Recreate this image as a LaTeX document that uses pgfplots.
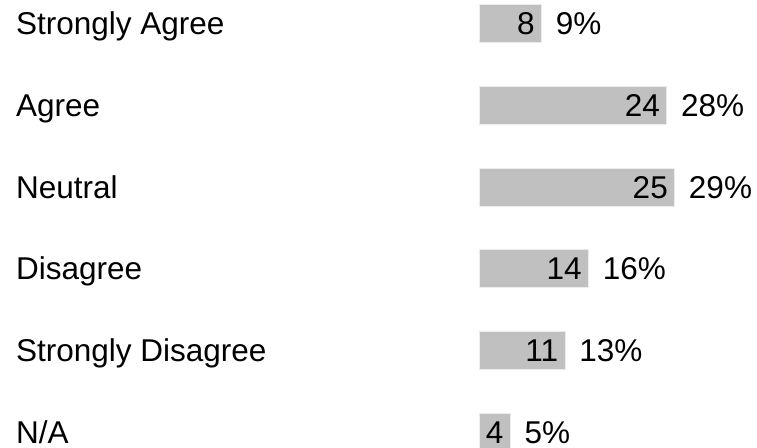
\documentclass[border=0pt]{standalone}
\usepackage{fontspec}
\setmainfont{Liberation Sans}
\usepackage{pgfplots}
\usepackage{pgfplotstable}
\pgfplotsset{compat=1.18}
\definecolor{barfill}{RGB}{192,192,192}
\definecolor{baredge}{RGB}{236,236,236}

\pgfplotstableread{
row count pct
0 8 9
1 24 28
2 25 29
3 14 16
4 11 13
5 4 5
}\data

\newcommand{\bigfont}{\fontsize{31.5bp}{36bp}\selectfont}

\begin{document}
\begin{tikzpicture}
\begin{axis}[
  scale only axis,
  width=757bp, height=448bp,
  xmin=-61.17, xmax=35.50,
  y dir=reverse,
  ymin=-0.294, ymax=5.196,
  xbar, bar width=38bp, bar shift=0pt,
  ytick={0,1,2,3,4,5},
  yticklabels={Strongly Agree, Agree, Neutral, Disagree, Strongly Disagree, N/A},
  yticklabel style={anchor=base west, inner sep=0pt, xshift=16bp, yshift=-11bp, font=\bigfont},
  xtick=\empty,
  major tick length=0pt,
  axis line style={draw=none},
  clip=false,
  /pgf/number format/assume math mode=true,
]
\addplot[fill=barfill, draw=baredge, line width=1bp,
  nodes near coords={\pgfmathprintnumber{\pgfplotspointmeta}},
  point meta=x,
  every node near coord/.append style={anchor=base east, inner sep=0pt, xshift=-6.5bp, yshift=-11bp, font=\bigfont, text=black},
] table[x=count, y=row] {\data};
\addplot[draw=none, fill=none, forget plot,
  nodes near coords={\pgfmathprintnumber{\pgfplotspointmeta}\%},
  point meta=explicit,
  every node near coord/.append style={anchor=base west, inner sep=0pt, xshift=14bp, yshift=-11bp, font=\bigfont, text=black},
] table[x=count, y=row, meta=pct] {\data};
\coordinate (bl) at (rel axis cs:0,0);
\coordinate (tr) at (rel axis cs:1,1);
\end{axis}
\pgfresetboundingbox
\path[use as bounding box] (bl) rectangle (tr);
\end{tikzpicture}
\end{document}
